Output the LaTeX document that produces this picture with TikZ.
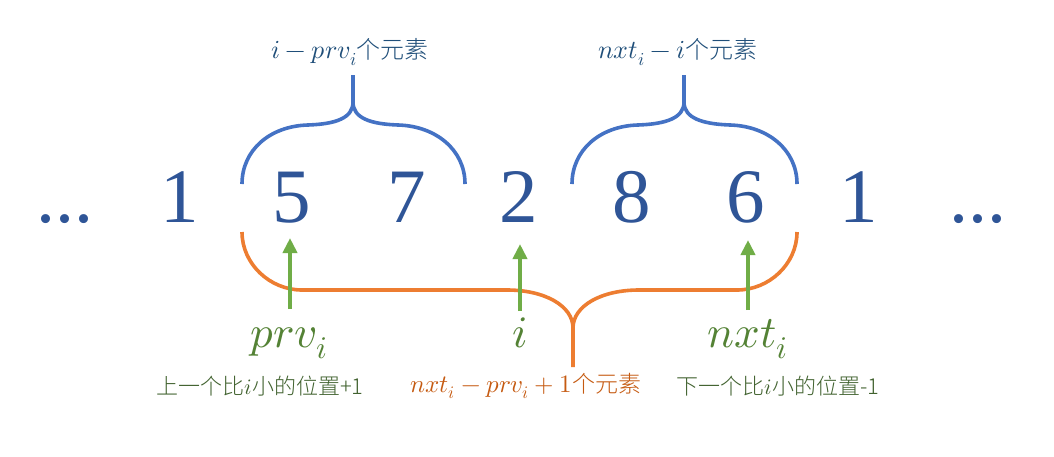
\documentclass[tikz,border=0pt]{standalone}
\usepackage{fontspec}
\usepackage{unicode-math}
\newfontfamily\cjk{Noto Sans CJK SC}[UprightFont={* Light}]
\newfontfamily\numfont{Liberation Serif}
\usetikzlibrary{arrows.meta}
\definecolor{numblue}{HTML}{2F5597}
\definecolor{braceblue}{HTML}{4472C4}
\definecolor{labelblue}{HTML}{1F4E79}
\definecolor{braceorange}{HTML}{ED7D31}
\definecolor{textorange}{HTML}{C55A11}
\definecolor{arrowgreen}{HTML}{70AD47}
\definecolor{labelgreen}{HTML}{548235}
\definecolor{notegreen}{HTML}{41622F}
\newcommand{\cjktop}[1]{{\fontsize{24}{28}\selectfont\cjk #1}}
\newcommand{\cjknote}[1]{{\fontsize{22}{26}\selectfont\cjk #1}}
\newcommand{\cjkorange}[1]{{\fontsize{23}{26}\selectfont\cjk #1}}
\tikzset{
  num/.style={font=\fontsize{77}{80}\selectfont\numfont, text=numblue, anchor=base, inner sep=0pt},
  dotsnum/.style={font=\fontsize{76}{78}\selectfont\numfont, text=numblue, anchor=base, inner sep=0pt},
  bluebrace/.style={draw=braceblue, line width=3.6pt},
  orangebrace/.style={draw=braceorange, line width=3.6pt},
  uparrow/.style={draw=arrowgreen, line width=3.8pt, -{Triangle[width=14pt,length=15pt]}},
  toplabel/.style={font=\fontsize{26}{30}\selectfont, text=labelblue, inner sep=0pt},
  biglabel/.style={font=\fontsize{45}{48}\selectfont, text=labelgreen, anchor=base, inner sep=0pt},
  notelabel/.style={font=\fontsize{22}{26}\selectfont, inner sep=0pt},
}
\begin{document}
\begin{tikzpicture}[x=1pt,y=-1pt]
\useasboundingbox (0,0) rectangle (1054,456);
% numbers
\node[dotsnum] (d0) at (65,222) {...};
\node[num] (d1) at (180,222) {1};
\node[num] (d2) at (292,222) {5};
\node[num] (d3) at (407,222) {7};
\node[num] (d4) at (519,222) {2};
\node[num] (d5) at (632,222) {8};
\node[num] (d6) at (746,222) {6};
\node[num] (d7) at (859,222) {1};
\node[dotsnum] (d8) at (978,222) {...};
% upper braces
\draw[bluebrace] (242,184) .. controls (242,150) and (270,126) .. (308,125)
  .. controls (336,124) and (353,118) .. (353,102) -- (353,75);
\draw[bluebrace] (465,184) .. controls (465,150) and (436,126) .. (398,125)
  .. controls (370,124) and (353,118) .. (353,102);
\draw[bluebrace] (572,184) .. controls (572,150) and (600,126) .. (638,125)
  .. controls (666,124) and (684,118) .. (684,102) -- (684,75);
\draw[bluebrace] (797,184) .. controls (797,150) and (768,126) .. (730,125)
  .. controls (702,124) and (684,118) .. (684,102);
% top labels
\node[toplabel] (t1) at (350,52) {$i-prv_i$\cjktop{个元素}};
\node[toplabel] (t2) at (678,52) {$nxt_i-i$\cjktop{个元素}};
% lower brace
\draw[orangebrace] (242,232) .. controls (242,264) and (270,290) .. (302,290) -- (507,290)
  .. controls (545,290) and (573,306) .. (573,328) -- (573,367);
\draw[orangebrace] (797,232) .. controls (797,264) and (769,290) .. (737,290) -- (639,290)
  .. controls (601,290) and (573,306) .. (573,328);
% labels
\node[biglabel] (prv) at (289,347) {$prv_i$};
\node[biglabel] (ii) at (520,347) {$i$};
\node[biglabel] (nxt) at (748,347) {$nxt_i$};
% arrows
\coordinate (a1s) at (290,309); \coordinate (a1e) at (290,238);
\coordinate (a2s) at (520,311); \coordinate (a2e) at (520,244);
\coordinate (a3s) at (748,310); \coordinate (a3e) at (748,240);
\draw[uparrow] (a1s) -- (a1e);
\draw[uparrow] (a2s) -- (a2e);
\draw[uparrow] (a3s) -- (a3e);
% notes
\node[notelabel, text=notegreen] (n1) at (260,386) {\cjknote{上一个比}$i$\cjknote{小的位置+1}};
\node[notelabel, text=textorange, font=\fontsize{25}{28}\selectfont] (n2) at (526,386) {$nxt_i-prv_i+1$\cjkorange{个元素}};
\node[notelabel, text=notegreen] (n3) at (778,386) {\cjknote{下一个比}$i$\cjknote{小的位置-1}};
\end{tikzpicture}
\end{document}
